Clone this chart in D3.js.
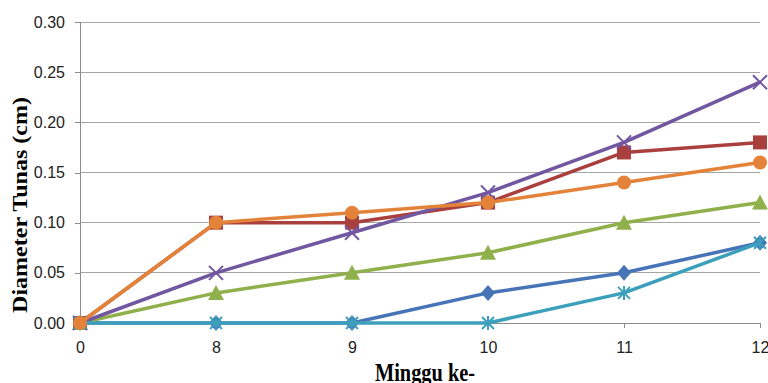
<!DOCTYPE html>
<html>
<head>
<meta charset="utf-8">
<script src="https://cdn.jsdelivr.net/npm/d3@7"></script>
<style>
  html, body { margin: 0; padding: 0; background: #fff; }
  svg { display: block; }
</style>
</head>
<body>
<svg id="chart" width="768" height="383"></svg>
<script>
// Weekly shoot diameter (cm) for six treatments
const weeks = ["0", "8", "9", "10", "11", "12"];
const seriesBlue   = [0, 0, 0, 0.03, 0.05, 0.08];
const seriesRed    = [0, 0.10, 0.10, 0.12, 0.17, 0.18];
const seriesGreen  = [0, 0.03, 0.05, 0.07, 0.10, 0.12];
const seriesPurple = [0, 0.05, 0.09, 0.13, 0.18, 0.24];
const seriesCyan   = [0, 0, 0, 0, 0.03, 0.08];
const seriesOrange = [0, 0.10, 0.11, 0.12, 0.14, 0.16];
const yTicks = [0, 0.05, 0.10, 0.15, 0.20, 0.25, 0.30];

const series = [
  { values: seriesBlue,   color: "#4674B6", marker: "diamond" },
  { values: seriesRed,    color: "#A9403E", marker: "square" },
  { values: seriesGreen,  color: "#8FB04B", marker: "triangle" },
  { values: seriesPurple, color: "#7156A0", marker: "x" },
  { values: seriesCyan,   color: "#3C9FBB", marker: "star" },
  { values: seriesOrange, color: "#E3833A", marker: "circle" }
];

const svg = d3.select("#chart");
const plot = { left: 80, right: 760, top: 22, bottom: 323 };

const x = d3.scalePoint().domain(weeks).range([plot.left, plot.right]).padding(0);
const y = d3.scaleLinear().domain([0, 0.30]).range([plot.bottom, plot.top]);

// Horizontal gridlines
svg.append("g")
  .selectAll("line")
  .data(yTicks.filter(d => d > 0))
  .join("line")
  .attr("x1", plot.left).attr("x2", plot.right)
  .attr("y1", d => y(d)).attr("y2", d => y(d))
  .attr("stroke", "#A6A6A6").attr("stroke-width", 1)
  .attr("shape-rendering", "crispEdges");

// Y axis
const yAxis = svg.append("g")
  .attr("transform", `translate(${plot.left},0)`)
  .call(d3.axisLeft(y).tickValues(yTicks).tickFormat(d3.format(".2f")).tickSize(5).tickPadding(10));
// X axis
const xAxis = svg.append("g")
  .attr("transform", `translate(0,${plot.bottom})`)
  .call(d3.axisBottom(x).tickSize(5).tickPadding(14));

[yAxis, xAxis].forEach(g => {
  g.select(".domain").attr("stroke", "#8C8C8C").attr("shape-rendering", "crispEdges");
  g.selectAll(".tick line").attr("stroke", "#8C8C8C").attr("shape-rendering", "crispEdges");
  g.selectAll(".tick text")
    .attr("fill", "#222")
    .style("font-family", "'Liberation Sans', Arial, sans-serif")
    .style("font-size", "16px");
});

// Lines
const line = d3.line()
  .x((d, i) => x(weeks[i]))
  .y(d => y(d));

const S = 7; // marker half-size
function drawMarker(g, type, color) {
  if (type === "diamond") {
    g.append("path").attr("d", `M0,${-S-1}L${S},0L0,${S+1}L${-S},0Z`).attr("fill", color);
  } else if (type === "square") {
    g.append("rect").attr("x", -S).attr("y", -S).attr("width", 2 * S).attr("height", 2 * S).attr("fill", color);
  } else if (type === "triangle") {
    g.append("path").attr("d", `M0,${-S-1}L${S+1},${S}L${-S-1},${S}Z`).attr("fill", color);
  } else if (type === "circle") {
    g.append("circle").attr("r", S).attr("fill", color);
  } else if (type === "x") {
    g.append("path").attr("d", `M${-S},${-S}L${S},${S}M${-S},${S}L${S},${-S}`)
      .attr("stroke", color).attr("stroke-width", 2).attr("fill", "none");
  } else if (type === "star") {
    g.append("path").attr("d", `M${-S+1},${-S+1}L${S-1},${S-1}M${-S+1},${S-1}L${S-1},${-S+1}M0,${-S}L0,${S}`)
      .attr("stroke", color).attr("stroke-width", 2).attr("fill", "none");
  }
}

series.forEach(s => {
  const g = svg.append("g");
  g.append("path")
    .datum(s.values)
    .attr("d", line)
    .attr("fill", "none")
    .attr("stroke", s.color)
    .attr("stroke-width", 3.5)
    .attr("stroke-linejoin", "round");
  s.values.forEach((v, i) => {
    const m = g.append("g").attr("transform", `translate(${x(weeks[i])},${y(v)})`);
    drawMarker(m, s.marker, s.color);
  });
});

// Axis titles
svg.append("text")
  .attr("transform", `translate(27,205) rotate(-90)`)
  .attr("text-anchor", "middle")
  .attr("textLength", 216)
  .attr("lengthAdjust", "spacingAndGlyphs")
  .style("font-family", "'Liberation Serif', 'Times New Roman', serif")
  .style("font-weight", "bold")
  .style("font-size", "22px")
  .attr("fill", "#000")
  .text("Diameter Tunas (cm)");

svg.append("text")
  .attr("x", 425).attr("y", 381)
  .attr("text-anchor", "middle")
  .attr("textLength", 100)
  .attr("lengthAdjust", "spacingAndGlyphs")
  .style("font-family", "'Liberation Serif', 'Times New Roman', serif")
  .style("font-weight", "bold")
  .style("font-size", "25px")
  .attr("fill", "#000")
  .text("Minggu ke-");
</script>
</body>
</html>
